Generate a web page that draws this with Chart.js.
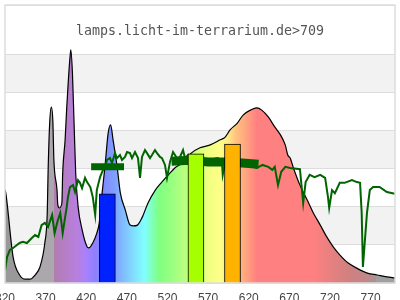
<!DOCTYPE html>
<html>
<head>
    <meta charset="UTF-8">
    <title>lamps.licht-im-terrarium.de 709</title>
    <script src="https://cdn.jsdelivr.net/npm/chart.js"></script>
    <style>
        body { margin: 0; background: #fff; }
    </style>
</head>
<body>
    <canvas id="chart" width="400" height="300"></canvas>

    <script>
        // lamp spectrum (nm / relative intensity)
        var specNm = [320, 321, 330, 338, 345, 351, 357, 363, 369, 372, 373, 375, 377, 379, 380, 384, 385, 387, 390, 391,
            394, 396, 398, 400, 401, 403, 405, 407, 410, 415, 421, 423, 428, 433, 436, 439, 443, 447, 450, 453,
            458, 462, 468, 474, 478, 483, 489, 496, 505, 513, 521, 529, 538, 545, 548, 560, 572, 585, 591, 597,
            606, 613, 622, 630, 636, 644, 652, 659, 665, 668, 671, 675, 683, 692, 699, 708, 716, 724, 732, 742,
            753, 766, 778, 790, 800];
        var specVal = [2.45, 2.36, 0.68, 0.21, 0.10, 0.10, 0.21, 0.42, 1.05, 1.84, 2.89, 4.20, 4.62, 4.20, 3.31, 2.44, 2.05, 1.97, 2.10, 2.89,
            3.76, 4.62, 5.33, 5.93, 6.12, 5.51, 4.20, 2.89, 2.00, 1.39, 0.95, 0.92, 1.05, 1.31, 1.58, 2.26, 3.05, 3.94, 4.15, 3.76,
            3.05, 2.36, 1.92, 1.52, 1.50, 1.52, 1.73, 2.10, 2.44, 2.65, 2.84, 3.02, 3.15, 3.31, 3.39, 3.55, 3.62, 3.76, 3.83, 4.02,
            4.20, 4.41, 4.54, 4.60, 4.54, 4.36, 4.10, 3.89, 3.62, 3.36, 3.28, 3.02, 2.57, 2.18, 1.86, 1.52, 1.21, 0.95, 0.74, 0.53,
            0.39, 0.26, 0.21, 0.16, 0.13];

        // daylight reference line
        var sunNm = [320, 322.5, 326, 330, 338, 342, 347, 353, 357, 361, 365, 369, 373, 378, 381, 385, 388, 391, 394, 396,
            397.5, 400, 403.7, 406.2, 409.8, 412.3, 414.8, 418.5, 421, 425, 428, 431, 433, 437, 440.6, 443.1, 445.5, 449.2, 451.7, 455.4,
            457.8, 461.5, 464, 467.7, 470.2, 473.8, 476.3, 480, 483.7, 486.2, 488.6, 492.3, 494.8, 498.5, 500.9, 504.6, 507.1, 510.8, 513.2, 516.9,
            519.4, 523.1, 526.8, 529.2, 532.9, 535.4, 539.1, 541.5, 545.2, 548, 564, 570, 582, 587, 588, 591, 597, 609, 619, 625,
            630, 637, 644, 649, 652, 656, 660, 665, 671, 683, 687, 690, 695, 701, 708, 714, 717.5, 719, 722.5, 726,
            732, 738, 747, 753, 757, 759, 760.5, 763, 765.5, 769, 773, 781, 790, 800];
        var sunVal = [0.34, 0.68, 0.87, 0.92, 1.05, 1.08, 1.05, 1.18, 1.26, 1.21, 1.52, 1.58, 1.47, 1.79, 1.31, 1.65, 1.84, 1.31, 1.73, 2.00,
            2.26, 2.52, 2.57, 2.39, 2.70, 2.63, 2.49, 2.76, 2.65, 2.52, 2.26, 1.79, 2.44, 2.78, 2.97, 3.05, 3.23, 3.28, 3.15, 3.41,
            3.28, 3.36, 3.23, 3.31, 3.44, 3.41, 3.28, 3.44, 3.28, 2.76, 3.31, 3.49, 3.41, 3.28, 3.36, 3.49, 3.41, 3.31, 3.28, 3.10,
            2.76, 3.18, 3.44, 3.36, 3.23, 3.31, 3.49, 3.28, 3.36, 3.23, 3.18, 3.23, 3.28, 3.18, 2.84, 3.15, 3.15, 3.15, 3.10, 3.05,
            3.02, 3.10, 3.05, 2.97, 3.05, 2.57, 2.92, 3.05, 3.02, 2.99, 2.10, 2.65, 2.84, 2.78, 2.84, 2.76, 2.26, 1.97, 2.44, 2.36,
            2.63, 2.63, 2.70, 2.65, 2.63, 1.84, 0.42, 1.13, 1.84, 2.44, 2.52, 2.52, 2.39, 2.34];

        // dense noisy part of the daylight line
        var sunBandNm = [525, 547, 570, 590, 612, 632];
        var sunBandVal = [3.20, 3.22, 3.18, 3.18, 3.15, 3.12];

        // daylight average in the blue band
        var blueAvgNm = [426, 466.5];
        var blueAvgVal = [3.05, 3.05];

        // lamp channels
        var barNm = [446, 555, 600];
        var barVal = [2.34, 3.39, 3.65];
        var barColors = ['#0022ff', '#a6ff00', '#ffb300'];

        var tickNm = [320, 370, 420, 470, 520, 570, 620, 670, 720, 770];
        var titleText = 'lamps.licht-im-terrarium.de>709';

        // fill colours along the spectrum
        var gradNm = [320, 350, 351, 380, 381, 395, 410, 420, 430, 440, 455, 470, 485, 492, 500, 510, 525, 540, 555, 570,
            585, 595, 605, 615, 630, 700, 720, 745, 765, 776, 777, 800];
        var gradColors = ['#999999', '#999999', '#aca7ac', '#aca7ac', '#b07db0', '#b67ec8', '#b680e0', '#a880ff', '#9080ff', '#8088ff',
            '#80a0ff', '#80c8ff', '#80f0ff', '#80ffff', '#80ffc0', '#80ff80', '#98ff80', '#b8ff80', '#d0ff80', '#f0ff80',
            '#ffff88', '#ffe888', '#ffc080', '#ffa880', '#ff8080', '#ff8080', '#e88080', '#d08080', '#c08888', '#b09090',
            '#a0a0a0', '#a0a0a0'];

        function pts(xs, ys) {
            return xs.map(function(x, i) { return {x: x, y: ys[i]}; });
        }

        function spectrumFill(context) {
            var chart = context.chart;
            var area = chart.chartArea;
            if (!area) return null;
            var xs = chart.scales.x;
            var g = chart.ctx.createLinearGradient(area.left, 0, area.right, 0);
            gradNm.forEach(function(nm, i) {
                var t = (xs.getPixelForValue(nm) - area.left) / (area.right - area.left);
                g.addColorStop(Math.min(1, Math.max(0, t)), gradColors[i]);
            });
            return g;
        }

        // striped background + frame + title text
        var decor = {
            id: 'decor',
            beforeDraw: function(chart) {
                var ctx = chart.ctx, a = chart.chartArea, y = chart.scales.y;
                ctx.save();
                ctx.fillStyle = '#ffffff';
                ctx.fillRect(0, 0, chart.width, chart.height);
                ctx.fillStyle = '#f2f2f2';
                [1, 3, 5].forEach(function(v) {
                    var top = y.getPixelForValue(v + 1), bot = y.getPixelForValue(v);
                    ctx.fillRect(a.left, top, a.right - a.left, bot - top);
                });
                ctx.restore();
            },
            afterDraw: function(chart) {
                var ctx = chart.ctx, a = chart.chartArea;
                ctx.save();
                ctx.strokeStyle = '#dddddd';
                ctx.lineWidth = 1.5;
                ctx.strokeRect(a.left, a.top, a.right - a.left, a.bottom - a.top);
                ctx.fillStyle = '#555555';
                ctx.font = '13.3px "DejaVu Sans Mono"';
                ctx.textAlign = 'center';
                ctx.textBaseline = 'middle';
                ctx.fillText(titleText, (a.left + a.right) / 2, a.top + 27);
                ctx.restore();
            }
        };

        var ctx = document.getElementById('chart').getContext('2d');
        var chart = new Chart(ctx, {
            type: 'line',
            data: {
                datasets: [{
                    type: 'bar',
                    data: pts(barNm, barVal),
                    backgroundColor: barColors,
                    borderColor: '#000000',
                    borderWidth: 1,
                    barThickness: 16,
                    order: 0
                }, {
                    data: pts(blueAvgNm, blueAvgVal),
                    borderColor: '#006400',
                    borderWidth: 7,
                    borderCapStyle: 'butt',
                    pointRadius: 0,
                    order: 1
                }, {
                    data: pts(sunBandNm, sunBandVal),
                    borderColor: '#006400',
                    borderWidth: 9,
                    borderCapStyle: 'butt',
                    pointRadius: 0,
                    order: 2
                }, {
                    data: pts(sunNm, sunVal),
                    borderColor: '#006400',
                    borderWidth: 2,
                    pointRadius: 0,
                    tension: 0,
                    order: 3
                }, {
                    data: pts(specNm, specVal),
                    borderColor: '#000000',
                    borderWidth: 1.2,
                    backgroundColor: spectrumFill,
                    fill: 'origin',
                    pointRadius: 0,
                    cubicInterpolationMode: 'monotone',
                    order: 4
                }]
            },
            options: {
                responsive: false,
                animation: false,
                layout: { padding: { top: 5, left: 5, right: 5, bottom: 0 } },
                plugins: {
                    legend: { display: false },
                    tooltip: { enabled: false }
                },
                scales: {
                    x: {
                        type: 'linear',
                        min: 320,
                        max: 800,
                        offset: false,
                        grid: { display: false, drawTicks: false },
                        border: { display: false },
                        ticks: {
                            padding: 8,
                            maxRotation: 0,
                            color: '#444444',
                            font: { family: '"Liberation Sans"', size: 12 }
                        },
                        afterBuildTicks: function(s) {
                            s.ticks = tickNm.map(function(v) { return {value: v}; });
                        },
                        afterFit: function(s) {
                            s.paddingLeft = 0;
                            s.paddingRight = 0;
                            s.height = 17;
                        }
                    },
                    y: {
                        min: 0,
                        max: 7.3,
                        grid: { color: '#dddddd', drawTicks: false },
                        border: { display: false },
                        ticks: { display: false, stepSize: 1 },
                        afterFit: function(s) { s.width = 0; }
                    }
                }
            },
            plugins: [decor]
        });
    </script>
</body>
</html>
